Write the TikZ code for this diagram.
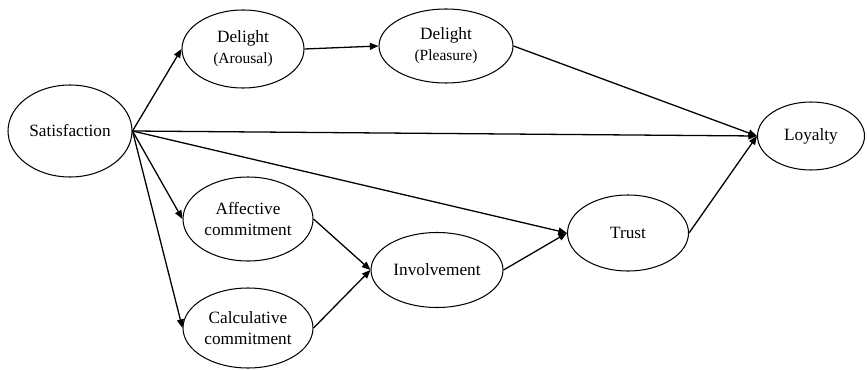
\documentclass[tikz,border=0pt]{standalone}
\usepackage{fontspec}
\setmainfont{Liberation Serif}
\usetikzlibrary{shapes.geometric}
\usetikzlibrary{arrows.meta}
\def\largeur{867}
\def\hauteur{369}

\begin{document}
\begin{tikzpicture}[x=0.58pt, y=-0.58pt,
	construit/.style 2 args={ellipse, draw, line width=0.6pt, inner sep=0pt, align=center,
		minimum width=#1*0.58pt, minimum height=#2*0.58pt},
	lien/.style={-{Triangle[length=5pt,width=4pt]}, line width=0.75pt}]
	%\draw[step=50, black!20!white] (0,0) grid (\largeur,\hauteur);
	\useasboundingbox (0,0) rectangle (\largeur,\hauteur);
	\node[construit={124}{92}] (satisfaction) at (70,131) {Satisfaction};
	\node[construit={122}{78}] (arousal) at (243,49) {Delight\\{\small (Arousal)}};
	\node[construit={134}{74}] (pleasure) at (446,46) {Delight\\{\small (Pleasure)}};
	\node[construit={107}{68}] (loyalty) at (811,136) {Loyalty};
	\node[construit={130}{84}] (affective) at (248,219) {Affective\\commitment};
	\node[construit={130}{80}] (calculative) at (248,328) {Calculative\\commitment};
	\node[construit={132}{75}] (involvement) at (437,270) {Involvement};
	\node[construit={121}{76}] (trust) at (628,233) {Trust};
	% satisfaction paths
	\draw[lien] (satisfaction.east) -- (arousal.west);
	\draw[lien] (satisfaction.east) -- (loyalty.west);
	\draw[lien] (satisfaction.east) -- (trust.west);
	\draw[lien] (satisfaction.east) -- (affective.west);
	\draw[lien] (satisfaction.east) -- (calculative.west);
	% delight
	\draw[lien] (arousal.east) -- (pleasure.west);
	\draw[lien] (pleasure.east) -- (loyalty.west);
	% commitment
	\draw[lien] (affective.east) -- (involvement.west);
	\draw[lien] (calculative.east) -- (involvement.west);
	\draw[lien] (involvement.east) -- (trust.west);
	\draw[lien] (trust.east) -- (loyalty.west);
\end{tikzpicture}
\end{document}
